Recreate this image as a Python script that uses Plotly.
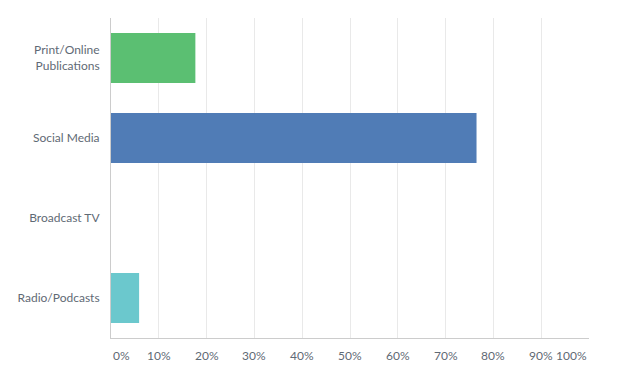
import plotly.graph_objects as go

categories = ["Print/Online<br>Publications", "Social Media", "Broadcast TV", "Radio/Podcasts"]
values = [17.65, 76.47, 0.0, 5.88]
colors = ["#5bbf72", "#507cb6", "#f9be00", "#6bc8cd"]
tick_vals = [0, 10, 20, 30, 40, 50, 60, 70, 80, 90, 100]
tick_text = ["0%", "10%", "20%", "30%", "40%", "50%", "60%", "70%", "80%", "90%", "100%"]

FONT = "Lato"
TXT = "#5f6a75"

fig = go.Figure(go.Bar(
    x=values, y=categories, orientation="h",
    marker=dict(color=colors, line=dict(width=0)),
    width=0.625, hoverinfo="skip",
))

annotations = []
for v, t in zip(tick_vals, tick_text):
    anchor = "left" if v == 0 else ("right" if v == 100 else "center")
    annotations.append(dict(x=v, y=0, xref="x", yref="paper", text=t, showarrow=False,
                            xanchor=anchor, yanchor="middle", yshift=-17,
                            font=dict(family=FONT, size=12, color=TXT)))

fig.update_layout(
    width=617, height=379,
    margin=dict(l=103, r=36, t=10, b=49),
    paper_bgcolor="white", plot_bgcolor="white",
    showlegend=False,
    annotations=annotations,
    xaxis=dict(range=[0, 100], tickvals=tick_vals, showticklabels=False,
               showgrid=True, gridcolor="#e9e9e9", gridwidth=1,
               zeroline=False, showline=True, linecolor="#cccccc", linewidth=1,
               fixedrange=True),
    yaxis=dict(autorange="reversed", showgrid=False, zeroline=False,
               showline=True, linecolor="#cccccc", linewidth=1,
               ticks="", ticklabelstandoff=8,
               tickfont=dict(family=FONT, size=12, color=TXT), fixedrange=True),
    font=dict(family=FONT, size=12, color=TXT),
)

fig.write_html("out.html", config={"displayModeBar": False})
